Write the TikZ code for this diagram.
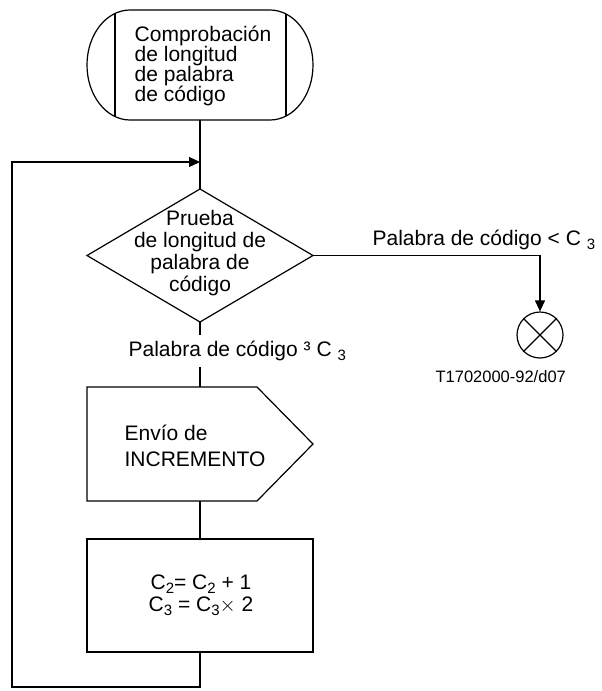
\documentclass[tikz,border=0pt]{standalone}
\usepackage{fontspec}
\setmainfont{Liberation Sans}
\usetikzlibrary{arrows.meta}
% lowered, smaller index digit as used in the labels
\newcommand{\lowsub}[1]{\raisebox{-0.4ex}{\fontsize{15}{15}\selectfont #1}}

\begin{document}
\begin{tikzpicture}[x=1pt,y=-1pt,line width=1.2pt,
  txt/.style={inner sep=0pt,font=\fontsize{21}{20}\selectfont},
  arr/.style={-{Triangle[length=11pt,width=10pt]}}]
\path[use as bounding box,fill=white] (0,0) rectangle (602,691);

% terminal symbol with elliptical caps and inner bars
\draw (130,10) -- (270,10)
      arc[start angle=-90,end angle=90,x radius=43,y radius=55]
      -- (130,120)
      arc[start angle=90,end angle=270,x radius=43,y radius=55] -- cycle;
\draw (115,13.5) -- (115,116.5);
\draw (286,14) -- (286,116);
\node[txt,align=left] (term) at (203,66)
  {Comprobación\\de longitud\\de palabra\\de código};
\coordinate (tb) at (200,120);

% decision
\coordinate (dtop) at (200,189);
\coordinate (dright) at (313,255.5);
\coordinate (dbot) at (200,322);
\coordinate (dleft) at (87,255.5);
\draw (dtop) -- (dright) -- (dbot) -- (dleft) -- cycle;
\node[txt,align=center,font=\fontsize{21}{22}\selectfont] (test) at (200,253)
  {Prueba\\de longitud de\\palabra de\\código};

% output signal
\coordinate (ptop) at (200,387);
\coordinate (pbot) at (200,501);
\draw (87,387) -- (257,387) -- (313,444) -- (257,501) -- (87,501) -- cycle;
\node[txt,align=left,anchor=west,font=\fontsize{21}{26}\selectfont] (send) at (124,446)
  {Envío de\\INCREMENTO};

% task box
\coordinate (rtop) at (200,539);
\coordinate (rbot) at (200,652);
\draw (87,539) rectangle (313,652);
\node[txt,align=center,font=\fontsize{21}{22}\selectfont] (task) at (201,595)
  {C\lowsub{2}= C\lowsub{2} + 1\\C\lowsub{3} = C\lowsub{3}$\times$ 2};

% end state
\node[draw,circle,minimum size=46pt,inner sep=0pt] (stop) at (540,335) {};
\draw (stop.north east) -- (stop.south west);
\draw (stop.north west) -- (stop.south east);

% loop-back corners and join point
\coordinate (join) at (200,162);
\coordinate (lb1) at (200,687);
\coordinate (lb2) at (12,687);
\coordinate (lb3) at (12,162);
\coordinate (rc) at (540,255.5);

% connectors
\draw (tb) -- (dtop);
\draw[arr] (dright) -- (rc) -- (stop.north);
\draw (dbot) -- (ptop);
\draw (pbot) -- (rtop);
\draw[arr] (rbot) -- (lb1) -- (lb2) -- (lb3) -- (join);

% labels
\node[txt,anchor=base west] (lt) at (372,245) {Palabra de código < C \lowsub{3}};
\node[txt,anchor=base west,fill=white,inner xsep=2pt,inner ysep=6pt] (ge) at (126,356)
  {Palabra de código ³ C \lowsub{3}};
\node[inner sep=0pt,anchor=base west,font=\fontsize{16.5}{18}\selectfont] (ref) at (435,382)
  {T1702000-92/d07};
\end{tikzpicture}
\end{document}
